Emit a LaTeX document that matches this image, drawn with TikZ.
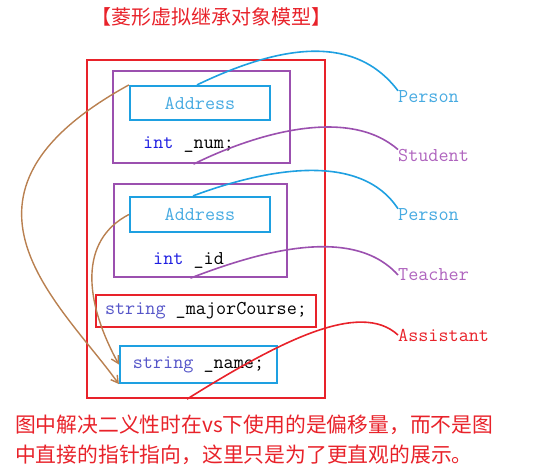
\documentclass[tikz,border=0pt]{standalone}
\usepackage{fontspec}
\newfontfamily\cjkfont{Noto Sans CJK SC}
\usetikzlibrary{arrows.meta}
\definecolor{boxred}{RGB}{232,34,42}
\definecolor{boxpurple}{RGB}{155,80,175}
\definecolor{boxblue}{RGB}{30,160,225}
\definecolor{linkbrown}{RGB}{185,128,80}
\definecolor{kwblue}{RGB}{30,30,225}
\definecolor{typeblue}{RGB}{85,85,200}
\definecolor{textblue}{RGB}{70,170,225}
\definecolor{textpurple}{RGB}{175,100,190}
\newcommand{\codefont}{\ttfamily\fontsize{19.6}{20}\selectfont}

\begin{document}
\begin{tikzpicture}[x=1pt, y=-1pt,
    redbox/.style={draw=boxred, line width=2.2pt, inner sep=0pt},
    purplebox/.style={draw=boxpurple, line width=2.2pt, inner sep=0pt},
    bluebox/.style={draw=boxblue, line width=2.2pt, inner sep=0pt, font=\codefont},
    code/.style={inner sep=0pt, font=\codefont},
    link/.style={line width=1.6pt},
    brownarrow/.style={linkbrown, line width=1.4pt, -{Straight Barb[length=7pt,width=8pt]}}]
    \useasboundingbox (0,0) rectangle (550,475);

    \node[boxred, font=\cjkfont\fontsize{20}{20}\selectfont] (title) at (212,17) {【菱形虚拟继承对象模型】};

    % object layout
    \node[redbox, minimum width=238pt, minimum height=338pt] (outer) at (206,229) {};
    \node[purplebox, minimum width=177pt, minimum height=92pt] (student) at (201.5,117) {};
    \node[bluebox, text=textblue, minimum width=140pt, minimum height=34pt] (addr1) at (200,103) {Address};
    \node[code, anchor=west] (num) at (143,145) {\textcolor{kwblue}{int} \_num;};
    \node[purplebox, minimum width=173pt, minimum height=93pt] (teacher) at (200.5,230.5) {};
    \node[bluebox, text=textblue, minimum width=140pt, minimum height=35pt] (addr2) at (200,214.5) {Address};
    \node[code, anchor=west] (id) at (153,260) {\textcolor{kwblue}{int} \_id};
    \node[redbox, font=\codefont, minimum width=220pt, minimum height=32pt] (major) at (206,311) {\textcolor{typeblue}{string} \_majorCourse;};
    \node[bluebox, minimum width=157pt, minimum height=37pt] (name) at (198.5,364.5) {\textcolor{typeblue}{string} \_name;};

    % class names
    \node[code, anchor=west, text=textblue] (person1) at (398,97) {Person};
    \node[code, anchor=west, text=textpurple] (studentlbl) at (398,156) {Student};
    \node[code, anchor=west, text=textblue] (person2) at (398,215) {Person};
    \node[code, anchor=west, text=textpurple] (teacherlbl) at (398,275) {Teacher};
    \node[code, anchor=west, text=boxred] (assistant) at (398,335) {Assistant};

    % links to class names
    \draw[link, boxblue] ([xshift=-3pt]addr1.north) .. controls +(73,-35) and +(-47,-62) .. (person1.north west);
    \draw[link, boxpurple] ([xshift=-8pt]student.south) .. controls +(67,-33) and +(-48,-42) .. (studentlbl.north west);
    \draw[link, boxblue] ([xshift=-7pt]addr2.north) .. controls +(72,-27) and +(-38,-58) .. (person2.north west);
    \draw[link, boxpurple] ([xshift=-10pt]teacher.south) .. controls +(70,-27) and +(-45,-50) .. (teacherlbl.west);
    \draw[link, boxred] ([xshift=-19pt]outer.south) .. controls +(93,-58) and +(-38,-35) .. (assistant.west);

    % virtual base pointers
    \draw[brownarrow] (addr1.north west) .. controls +(-200,110) and +(-60,-83) .. (name.south west);
    \draw[brownarrow] (addr2.west) .. controls +(-50,26) and +(-35,-64) .. (name.west);

    \node[text=boxred, anchor=north west, align=left, inner sep=0pt,
        font=\cjkfont\fontsize{20.8}{30}\selectfont] (note) at (15,415)
        {图中解决二义性时在vs下使用的是偏移量，而不是图\\中直接的指针指向，这里只是为了更直观的展示。};
\end{tikzpicture}
\end{document}
